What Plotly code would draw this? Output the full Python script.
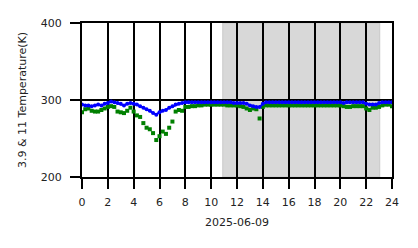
import plotly.graph_objects as go

hours = [i * 0.25 for i in range(97)]

blue_t = [
    294, 293, 293, 292, 293, 294, 293, 295, 296, 298, 297, 296, 295, 293, 295, 296,
    295, 294, 292, 290, 288, 286, 283, 281, 284, 286, 287, 290, 292, 294, 295, 296,
    297, 297, 297, 297, 297, 297, 297, 297, 297, 297, 297, 297, 297, 297, 297, 296,
    296, 296, 296, 295, 293, 292, 291, 291, 295, 297, 297, 297, 297, 297, 297, 297,
    297, 297, 297, 297, 297, 297, 297, 297, 297, 297, 297, 297, 297, 297, 297, 297,
    297, 296, 297, 297, 297, 297, 297, 297, 295, 294, 294, 294, 296, 297, 297, 297,
    297,
]

green_t = [
    284, 288, 289, 286, 285, 285, 287, 289, 291, 292, 291, 285, 284, 283, 286, 290,
    285, 280, 278, 270, 264, 262, 257, 248, 253, 259, 256, 264, 272, 285, 287, 286,
    291, 291, 292, 292, 293, 293, 294, 294, 294, 294, 294, 294, 294, 293, 293, 293,
    293, 292, 291, 289, 287, 289, 288, 276, 291, 293, 293, 293, 293, 293, 293, 293,
    293, 293, 293, 293, 293, 293, 293, 293, 293, 293, 293, 293, 293, 293, 293, 293,
    293, 292, 291, 291, 292, 292, 292, 292, 289, 287, 290, 290, 291, 293, 294, 294,
    292,
]

shade_start, shade_end = 10.9, 23.05
x_ticks = list(range(0, 25, 2))
y_ticks = [200, 300, 400]

fig = go.Figure()
fig.add_shape(type="rect", xref="x", yref="y", x0=shade_start, x1=shade_end,
              y0=200, y1=400, fillcolor="rgb(216,216,216)",
              line=dict(color="rgb(200,200,200)", width=1), layer="below")
fig.add_trace(go.Scatter(x=hours, y=green_t, mode="markers",
                         marker=dict(symbol="square", size=4, color="green"),
                         showlegend=False))
fig.add_trace(go.Scatter(x=hours, y=blue_t, mode="lines+markers",
                         line=dict(color="blue", width=2),
                         marker=dict(symbol="circle", size=4, color="blue"),
                         showlegend=False))

axis_font = dict(family="DejaVu Sans", size=11, color="#222")
fig.update_layout(
    width=418, height=248,
    margin=dict(l=82, r=26, t=23, b=71),
    plot_bgcolor="white", paper_bgcolor="white",
    xaxis=dict(range=[0, 24], tickvals=x_ticks, ticktext=[str(v) for v in x_ticks],
               showgrid=True, gridcolor="black", gridwidth=2,
               showline=True, mirror=True, linecolor="black", linewidth=2,
               ticks="outside", ticklen=10, tickwidth=2, tickcolor="black",
               ticklabelstandoff=4,
               zeroline=False, tickfont=axis_font,
               title=dict(text="2025-06-09", font=axis_font, standoff=10)),
    yaxis=dict(range=[200, 400], tickvals=y_ticks,
               showgrid=True, gridcolor="black", gridwidth=2,
               showline=True, mirror=True, linecolor="black", linewidth=2,
               ticks="outside", ticklen=10, tickwidth=2, tickcolor="black",
               ticklabelstandoff=6,
               zeroline=False, tickfont=axis_font,
               title=dict(text="3.9 & 11 Temperature(K)", font=axis_font, standoff=12)),
)

fig.write_html("out.html")
